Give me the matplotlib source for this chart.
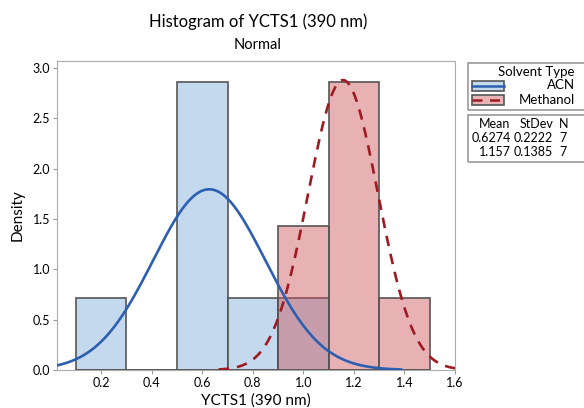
import matplotlib
matplotlib.use("Agg")
import matplotlib.pyplot as plt
from matplotlib.patches import Rectangle
import numpy as np

plt.rcParams['font.family'] = ['Lato', 'DejaVu Sans']

# histogram bins (width 0.2) and densities
bin_edges = [0.1, 0.3, 0.5, 0.7, 0.9, 1.1, 1.3, 1.5]
acn_density = [0.714, 0.0, 2.857, 0.714, 0.714, 0.0, 0.0]
meth_density = [0.0, 0.0, 0.0, 0.0, 1.429, 2.857, 0.714]

# fitted normal parameters from the summary table
groups = ["ACN", "Methanol"]
means = [0.6274, 1.157]
stdevs = [0.2222, 0.1385]
counts = [7, 7]
mean_labels = ["0.6274", "1.157"]
sd_labels = ["0.2222", "0.1385"]

x_ticks = [0.2, 0.4, 0.6, 0.8, 1.0, 1.2, 1.4, 1.6]
y_ticks = [0.0, 0.5, 1.0, 1.5, 2.0, 2.5, 3.0]

acn_face = "#c5d9ee"
meth_face = (0.80, 0.33, 0.356, 0.45)
acn_line = "#2c5fb0"
meth_line = "#9e1b22"
edge = "#555555"

fig = plt.figure(figsize=(5.84, 4.08), dpi=100)
W, H = 584, 408
ax = fig.add_axes([57 / W, (H - 370) / H, (455 - 57) / W, (370 - 61) / H])

lefts = np.array(bin_edges[:-1])
widths = np.diff(bin_edges)
ax.bar(lefts, acn_density, width=widths, align='edge', color=acn_face,
       edgecolor=edge, linewidth=1.2, zorder=2)
ax.bar(lefts, meth_density, width=widths, align='edge', facecolor=meth_face,
       edgecolor=edge, linewidth=1.2, zorder=3)

xs = np.linspace(0.025, 1.6, 400)
def normal_pdf(x, m, s):
    return np.exp(-0.5 * ((x - m) / s) ** 2) / (s * np.sqrt(2 * np.pi))

# the fitted curves disappear into the baseline where they are ~0
for m, s, c, extra in [(means[0], stdevs[0], acn_line, {}),
                       (means[1], stdevs[1], meth_line, {'dashes': (4, 3)})]:
    ys = normal_pdf(xs, m, s)
    ys = np.where(ys > 0.005, ys, np.nan)
    ax.plot(xs, ys, color=c, lw=1.9, zorder=4, **extra)

ax.set_xlim(0.025, 1.6)
ax.set_ylim(0, 3.07)
ax.set_xticks(x_ticks)
ax.set_xticklabels([f"{t:.1f}" for t in x_ticks])
ax.set_yticks(y_ticks)
ax.set_yticklabels([f"{t:.1f}" for t in y_ticks])
ax.tick_params(labelsize=9, length=3, color="#999999", pad=2)
for s in ax.spines.values():
    s.set_color("#aaaaaa")
ax.set_xlabel("YCTS1 (390 nm)", fontsize=11, labelpad=3)
ax.set_ylabel("Density", fontsize=11, labelpad=6)

fig.text(258 / W, 1 - 22 / H, "Histogram of YCTS1 (390 nm)", ha='center',
         va='center', fontsize=12)
fig.text(258 / W, 1 - 45 / H, "Normal", ha='center', va='center', fontsize=10.5)

# legend box
def fx(px):
    return px / W

def fy(py):
    return 1 - py / H

fs = 9.5
fig.patches.append(Rectangle((fx(468), fy(110)), fx(600) - fx(468), fy(63) - fy(110),
                             transform=fig.transFigure, fill=False,
                             edgecolor="#999999", lw=1.2))
fig.text(fx(575), fy(72), "Solvent Type", ha='right', va='center', fontsize=fs)
fig.patches.append(Rectangle((fx(472), fy(91)), fx(32), fy(0) - fy(10),
                             transform=fig.transFigure, facecolor=acn_face,
                             edgecolor=edge, lw=1.2))
fig.lines.append(plt.Line2D([fx(472), fx(504)], [fy(86), fy(86)],
                            transform=fig.transFigure, color=acn_line, lw=1.8))
fig.patches.append(Rectangle((fx(472), fy(105)), fx(32), fy(0) - fy(10),
                             transform=fig.transFigure, facecolor="#e8b4b8",
                             edgecolor=edge, lw=1.2))
fig.lines.append(plt.Line2D([fx(472), fx(504)], [fy(100), fy(100)],
                            transform=fig.transFigure, color=meth_line, lw=1.8,
                            dashes=(4, 3)))
fig.text(fx(575), fy(85), groups[0], ha='right', va='center', fontsize=fs)
fig.text(fx(575), fy(100), groups[1], ha='right', va='center', fontsize=fs)

# summary table box
ts = 9
fig.patches.append(Rectangle((fx(468), fy(162)), fx(600) - fx(468), fy(115) - fy(162),
                             transform=fig.transFigure, fill=False,
                             edgecolor="#999999", lw=1.2))
fig.text(fx(510), fy(124), "Mean", ha='right', va='center', fontsize=ts)
fig.text(fx(553), fy(124), "StDev", ha='right', va='center', fontsize=ts)
fig.text(fx(568), fy(124), "N", ha='right', va='center', fontsize=ts)
for i, row_y in enumerate([138, 152]):
    fig.text(fx(511), fy(row_y), mean_labels[i], ha='right', va='center', fontsize=ts)
    fig.text(fx(553), fy(row_y), sd_labels[i], ha='right', va='center', fontsize=ts)
    fig.text(fx(567), fy(row_y), str(counts[i]), ha='right', va='center', fontsize=ts)

fig.savefig("out.png", dpi=100)
